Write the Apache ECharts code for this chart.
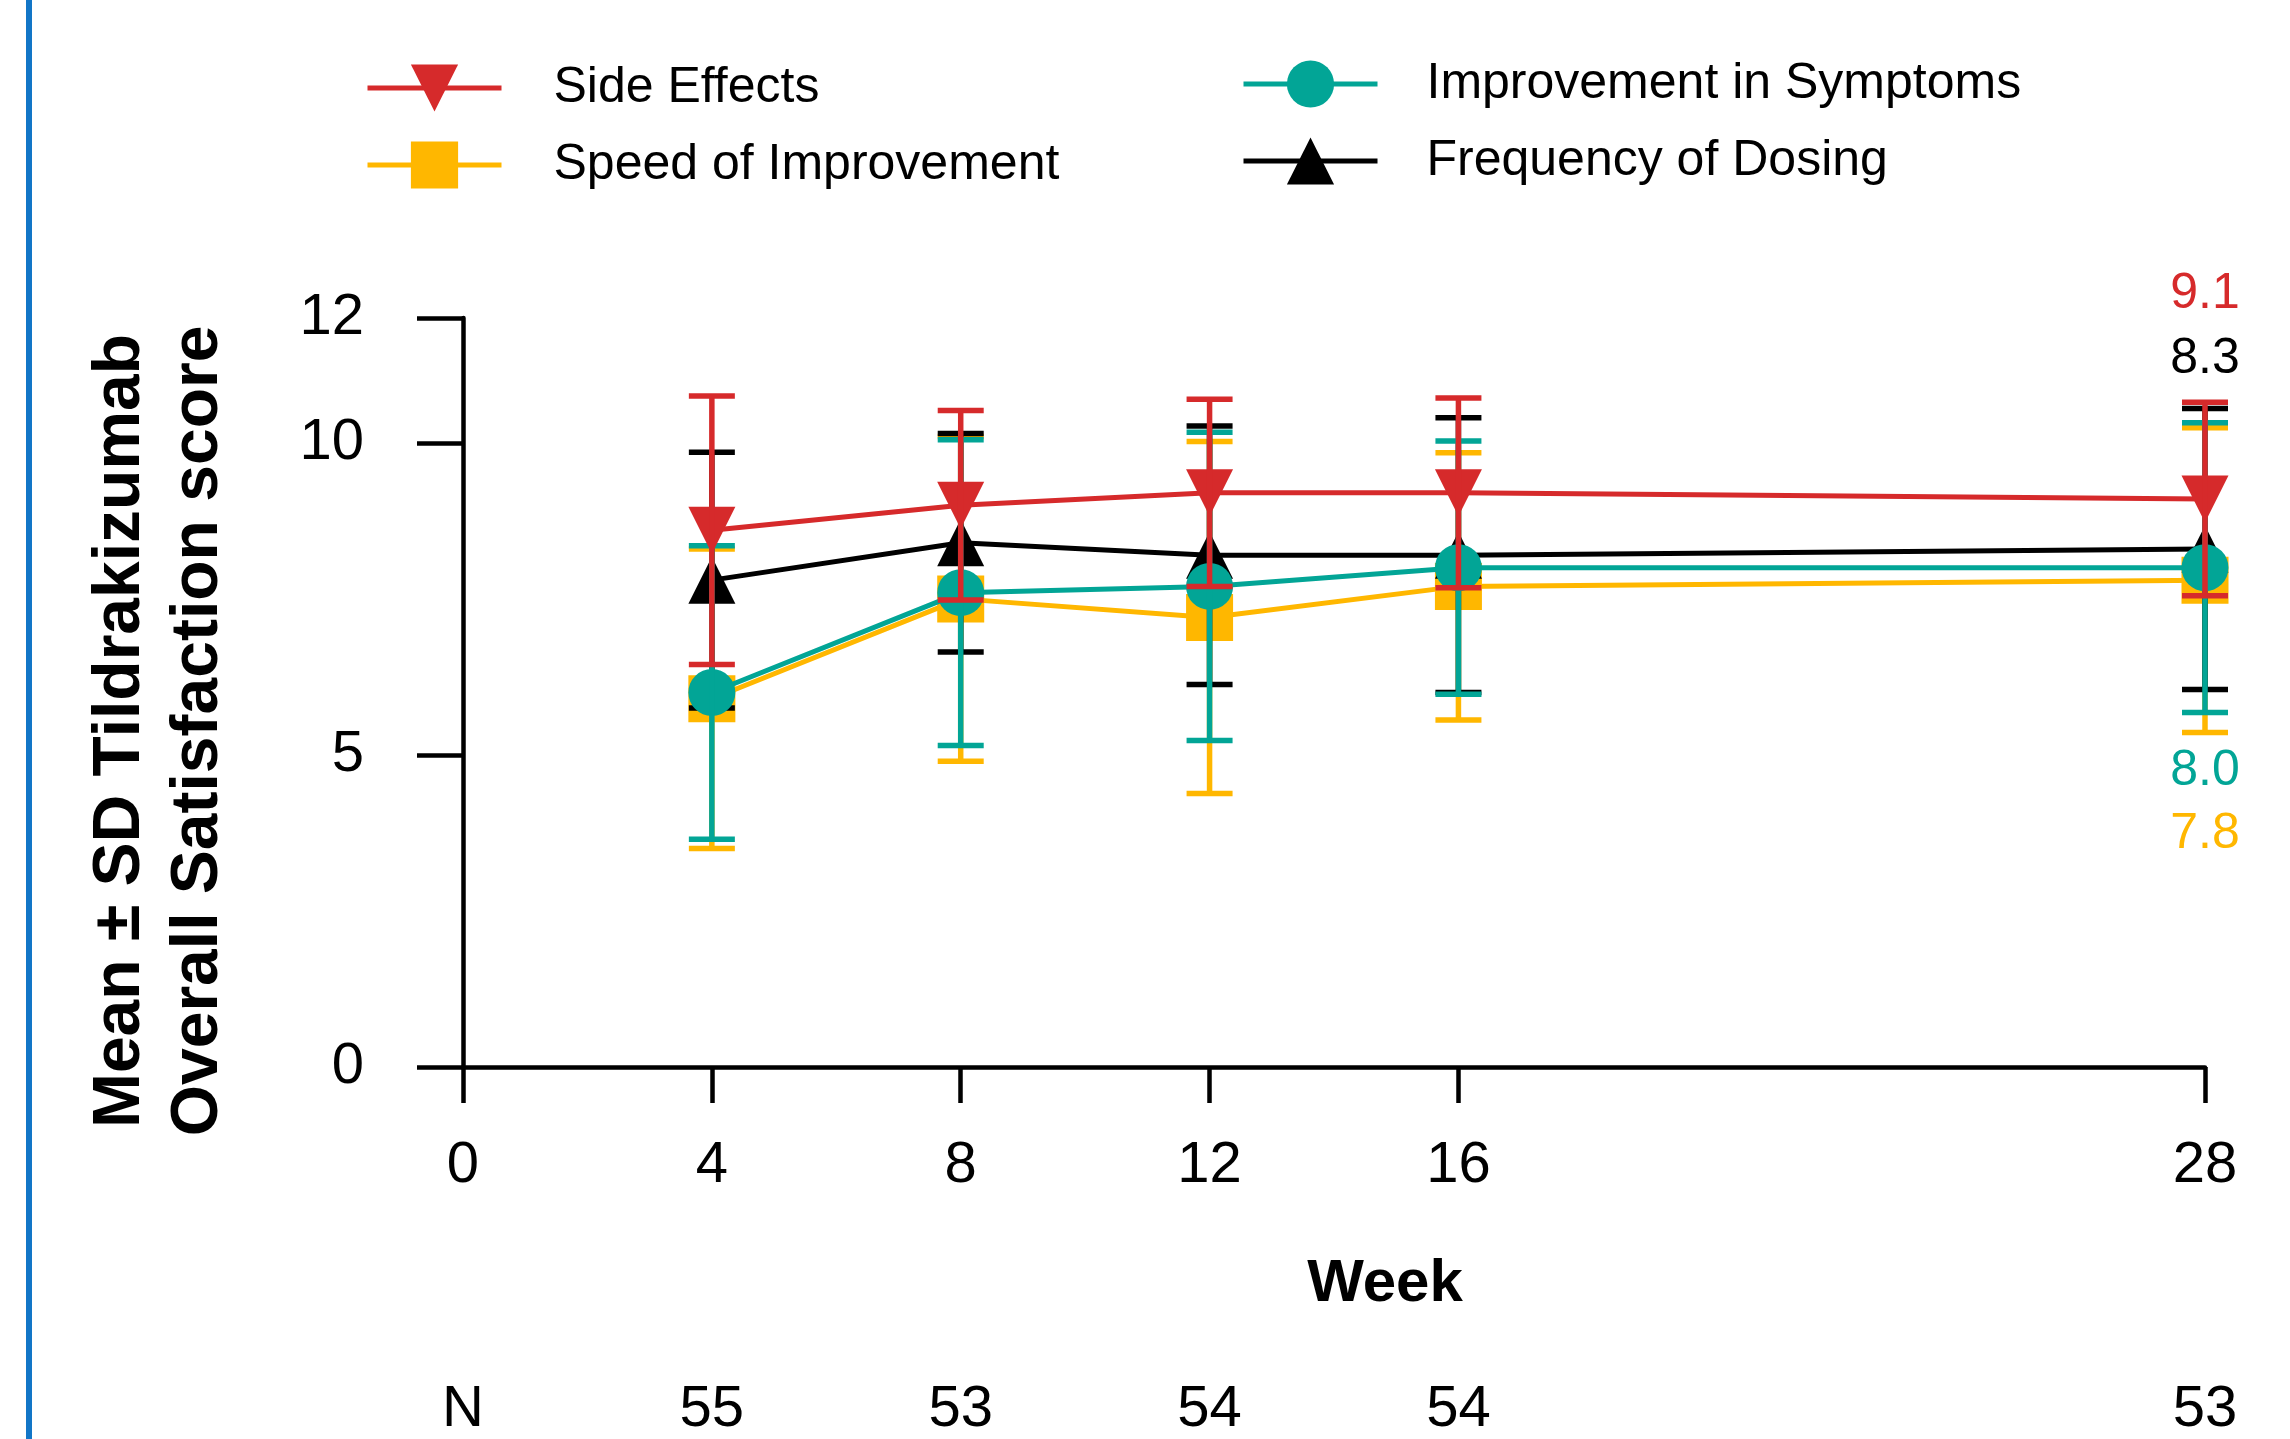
<!DOCTYPE html>
<html>
<head>
<meta charset="utf-8">
<title>Overall Satisfaction score</title>
<script src="https://cdn.jsdelivr.net/npm/echarts@6/dist/echarts.min.js"></script>
<style>
  html, body { margin: 0; padding: 0; background: #fff; }
  #chart { width: 2290px; height: 1439px; }
</style>
</head>
<body>
<div id="chart"></div>
<script>
// week values and N per visit
const weeks = [4, 8, 12, 16, 28];
const xTicks = [0, 4, 8, 12, 16, 28];
const yTicks = [0, 5, 10, 12];
const nCounts = [55, 53, 54, 54, 53];

// mean and SD per series
const sideMean = [8.6, 9.0, 9.2, 9.2, 9.1];
const sideSd = [2.15, 1.52, 1.5, 1.52, 1.55];
const speedMean = [5.9, 7.5, 7.2, 7.7, 7.8];
const speedSd = [2.4, 2.6, 2.82, 2.14, 2.44];
const improveMean = [6.0, 7.6, 7.7, 8.0, 8.0];
const improveSd = [2.35, 2.45, 2.47, 2.03, 2.32];
const freqMean = [7.8, 8.4, 8.2, 8.2, 8.3];
const freqSd = [2.05, 1.75, 2.07, 2.2, 2.25];

const FONT = '"Liberation Sans", Arial, Helvetica, sans-serif';

// drawing order: first is at the bottom
const seriesDefs = [
    { name: 'Speed of Improvement', mean: speedMean, sd: speedSd, color: '#ffb700', symbol: 'rect', rotate: 0, labelDy: 254, z: 2 },
    { name: 'Frequency of Dosing', mean: freqMean, sd: freqSd, color: '#000000', symbol: 'triangle', rotate: 0, labelDy: -190, z: 4 },
    { name: 'Improvement in Symptoms', mean: improveMean, sd: improveSd, color: '#02a596', symbol: 'circle', rotate: 0, labelDy: 204, z: 6 },
    { name: 'Side Effects', mean: sideMean, sd: sideSd, color: '#d62a2b', symbol: 'triangle', rotate: 180, labelDy: -205, z: 8 },
];

function renderErrorBar(params, api) {
    const x = api.value(0);
    const top = api.coord([x, api.value(2)]);
    const bot = api.coord([x, api.value(1)]);
    const half = 23;
    const style = { stroke: api.visual('color'), lineWidth: 5.5 };
    return {
        type: 'group',
        children: [
            { type: 'line', shape: { x1: top[0], y1: top[1], x2: bot[0], y2: bot[1] }, style },
            { type: 'line', shape: { x1: top[0] - half, y1: top[1], x2: top[0] + half, y2: top[1] }, style },
            { type: 'line', shape: { x1: bot[0] - half, y1: bot[1], x2: bot[0] + half, y2: bot[1] }, style },
        ],
    };
}

const lineSeries = seriesDefs.map((s) => ({
    type: 'line',
    name: s.name,
    z: s.z,
    symbol: s.symbol,
    symbolSize: 47,
    symbolRotate: s.rotate,
    showAllSymbol: true,
    color: s.color,
    lineStyle: { color: s.color, width: 5 },
    itemStyle: { color: s.color },
    emphasis: { disabled: true },
    data: weeks.map((w, i) => {
        const item = { value: [w, s.mean[i]] };
        if (i === weeks.length - 1) {
            item.label = {
                show: true,
                position: 'inside',
                offset: [0, s.labelDy],
                formatter: (p) => p.value[1].toFixed(1),
                color: s.color,
                fontSize: 50,
                fontFamily: FONT,
            };
        }
        return item;
    }),
}));

const errorSeries = seriesDefs.map((s) => ({
    type: 'custom',
    name: s.name,
    z: s.z + 1,
    color: s.color,
    itemStyle: { color: s.color },
    renderItem: renderErrorBar,
    encode: { x: 0, y: [1, 2] },
    data: weeks.map((w, i) => [w, s.mean[i] - s.sd[i], s.mean[i] + s.sd[i]]),
}));

const chart = echarts.init(document.getElementById('chart'));

const legendBase = {
    orient: 'vertical',
    padding: 0,
    itemWidth: 134,
    itemHeight: 59,
    itemGap: 27,
    selectedMode: false,
    lineStyle: { width: 5 },
    textStyle: { fontSize: 50, color: '#000', fontFamily: FONT },
};

chart.setOption({
    animation: false,
    backgroundColor: '#fff',
    textStyle: { fontFamily: FONT },
    grid: { left: 463, right: 85, top: 318, bottom: 368, containLabel: false },
    legend: [
        Object.assign({}, legendBase, {
            data: ['Side Effects', 'Speed of Improvement'],
            left: 365,
            top: 63,
            textStyle: Object.assign({}, legendBase.textStyle, { padding: [0, 0, 0, 47] }),
        }),
        Object.assign({}, legendBase, {
            data: ['Improvement in Symptoms', 'Frequency of Dosing'],
            left: 1241,
            top: 59,
            textStyle: Object.assign({}, legendBase.textStyle, { padding: [0, 0, 0, 44] }),
        }),
    ],
    xAxis: [
        {
            type: 'value',
            min: 0,
            max: 28,
            name: 'Week',
            nameLocation: 'middle',
            nameGap: 187,
            nameTextStyle: { fontSize: 60, fontWeight: 'bold', color: '#000', fontFamily: FONT, padding: [0, 0, 0, 102] },
            axisLine: { show: true, onZero: false, lineStyle: { color: '#000', width: 4.5 } },
            axisTick: { show: true, length: 36, customValues: xTicks, lineStyle: { color: '#000', width: 4.5 } },
            axisLabel: { customValues: xTicks, margin: 70, fontSize: 58, color: '#000', fontFamily: FONT },
            splitLine: { show: false },
        },
        {
            type: 'value',
            position: 'bottom',
            min: 0,
            max: 28,
            axisLine: { show: false },
            axisTick: { show: false },
            axisLabel: {
                customValues: xTicks,
                margin: 314,
                fontSize: 58,
                color: '#000',
                fontFamily: FONT,
                formatter: (v) => (v === 0 ? 'N' : String(nCounts[weeks.indexOf(v)])),
            },
            splitLine: { show: false },
        },
    ],
    yAxis: {
        type: 'value',
        min: 0,
        max: 12,
        axisLine: { show: true, onZero: false, lineStyle: { color: '#000', width: 4.5 } },
        axisTick: { show: true, length: 46, customValues: yTicks, lineStyle: { color: '#000', width: 4.5 } },
        axisLabel: { customValues: yTicks, margin: 99, fontSize: 58, color: '#000', fontFamily: FONT },
        splitLine: { show: false },
    },
    graphic: [
        { type: 'rect', left: 26, top: 0, shape: { width: 6, height: 1439 }, style: { fill: '#1276c7' }, silent: true },
        {
            type: 'text',
            x: 160,
            y: 731,
            rotation: Math.PI / 2,
            silent: true,
            style: {
                text: 'Mean \u00b1 SD Tildrakizumab\nOverall Satisfaction score',
                fontSize: 66,
                fontWeight: 'bold',
                fontFamily: FONT,
                fill: '#000',
                align: 'center',
                verticalAlign: 'middle',
                lineHeight: 78,
            },
        },
    ],
    series: lineSeries.concat(errorSeries),
});
</script>
</body>
</html>
